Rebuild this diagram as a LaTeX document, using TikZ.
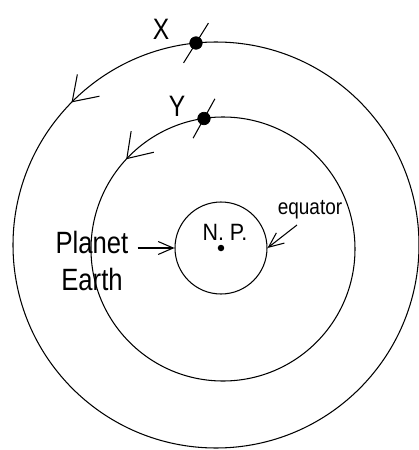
\documentclass[tikz,border=0pt]{standalone}
\usepackage{fontspec}
\setmainfont{Liberation Sans}
\usetikzlibrary{arrows.meta,decorations.markings}

\newcommand{\tall}[2][1.2]{\scalebox{1}[#1]{#2}}

\begin{document}
\begin{tikzpicture}[scale=1,
    orbit/.style={line width=0.6pt},
    dot/.style={circle,draw,fill=black,minimum size=0.25cm,inner sep=0pt},
    pole/.style={circle,fill=black,minimum size=0.13cm,inner sep=0pt},
    pointer/.style={line width=0.6pt,-{Straight Barb[length=0.3cm,width=0.26cm]}},
    lab/.style={inner sep=0pt,font=\fontsize{14pt}{16pt}\selectfont}]

\clip (-4.42,-4.04) rectangle (3.96,4.96);

% orbits
\draw[orbit,postaction={decorate},decoration={markings,
    mark=at position 0.376 with {\arrow{Straight Barb[length=0.46cm,width=0.62cm,line width=0.6pt]}}}]
    (-0.10,0.06) circle (4.06);
\draw[orbit,postaction={decorate},decoration={markings,
    mark=at position 0.381 with {\arrow{Straight Barb[length=0.46cm,width=0.62cm,line width=0.6pt]}}}]
    (0.04,-0.02) circle (2.64);

% planet
\node[circle,draw,line width=0.6pt,minimum size=1.84cm,inner sep=0pt] (earth) at (0,0) {};
\node[pole] (np) at (0,0) {};
\node[inner sep=0pt,font=\fontsize{12.2pt}{14pt}\selectfont] (nplab) at (0.08,0.32) {\tall[1.1]{N. P.}};

% satellites
\node[dot] (X) at (-0.50,4.10) {};
\node[dot] (Y) at (-0.34,2.59) {};
\draw[orbit] (X.center) ++(238:0.47) -- ++(58:0.94);
\draw[orbit] (Y.center) ++(241:0.45) -- ++(61:0.90);
\node[lab] (xlab) at (-1.20,4.38) {\tall{X}};
\node[lab] (ylab) at (-0.88,2.84) {\tall{Y}};

% labels
\node[inner sep=5pt,font=\fontsize{14.6pt}{16pt}\selectfont] (planet) at (-2.58,0.12) {\tall{Planet}};
\node[inner sep=0pt,font=\fontsize{14.6pt}{16pt}\selectfont] (earthlab) at (-2.58,-0.62) {\tall{Earth}};
\node[inner sep=0pt,font=\fontsize{10.8pt}{12pt}\selectfont] (eq) at (1.78,0.76) {\tall[1.15]{equator}};
\coordinate (eqtail) at (1.52,0.46);

\draw[pointer] (planet.east |- earth.west) -- (earth.west);
\draw[pointer] (eqtail) -- (earth.east);
\end{tikzpicture}
\end{document}
